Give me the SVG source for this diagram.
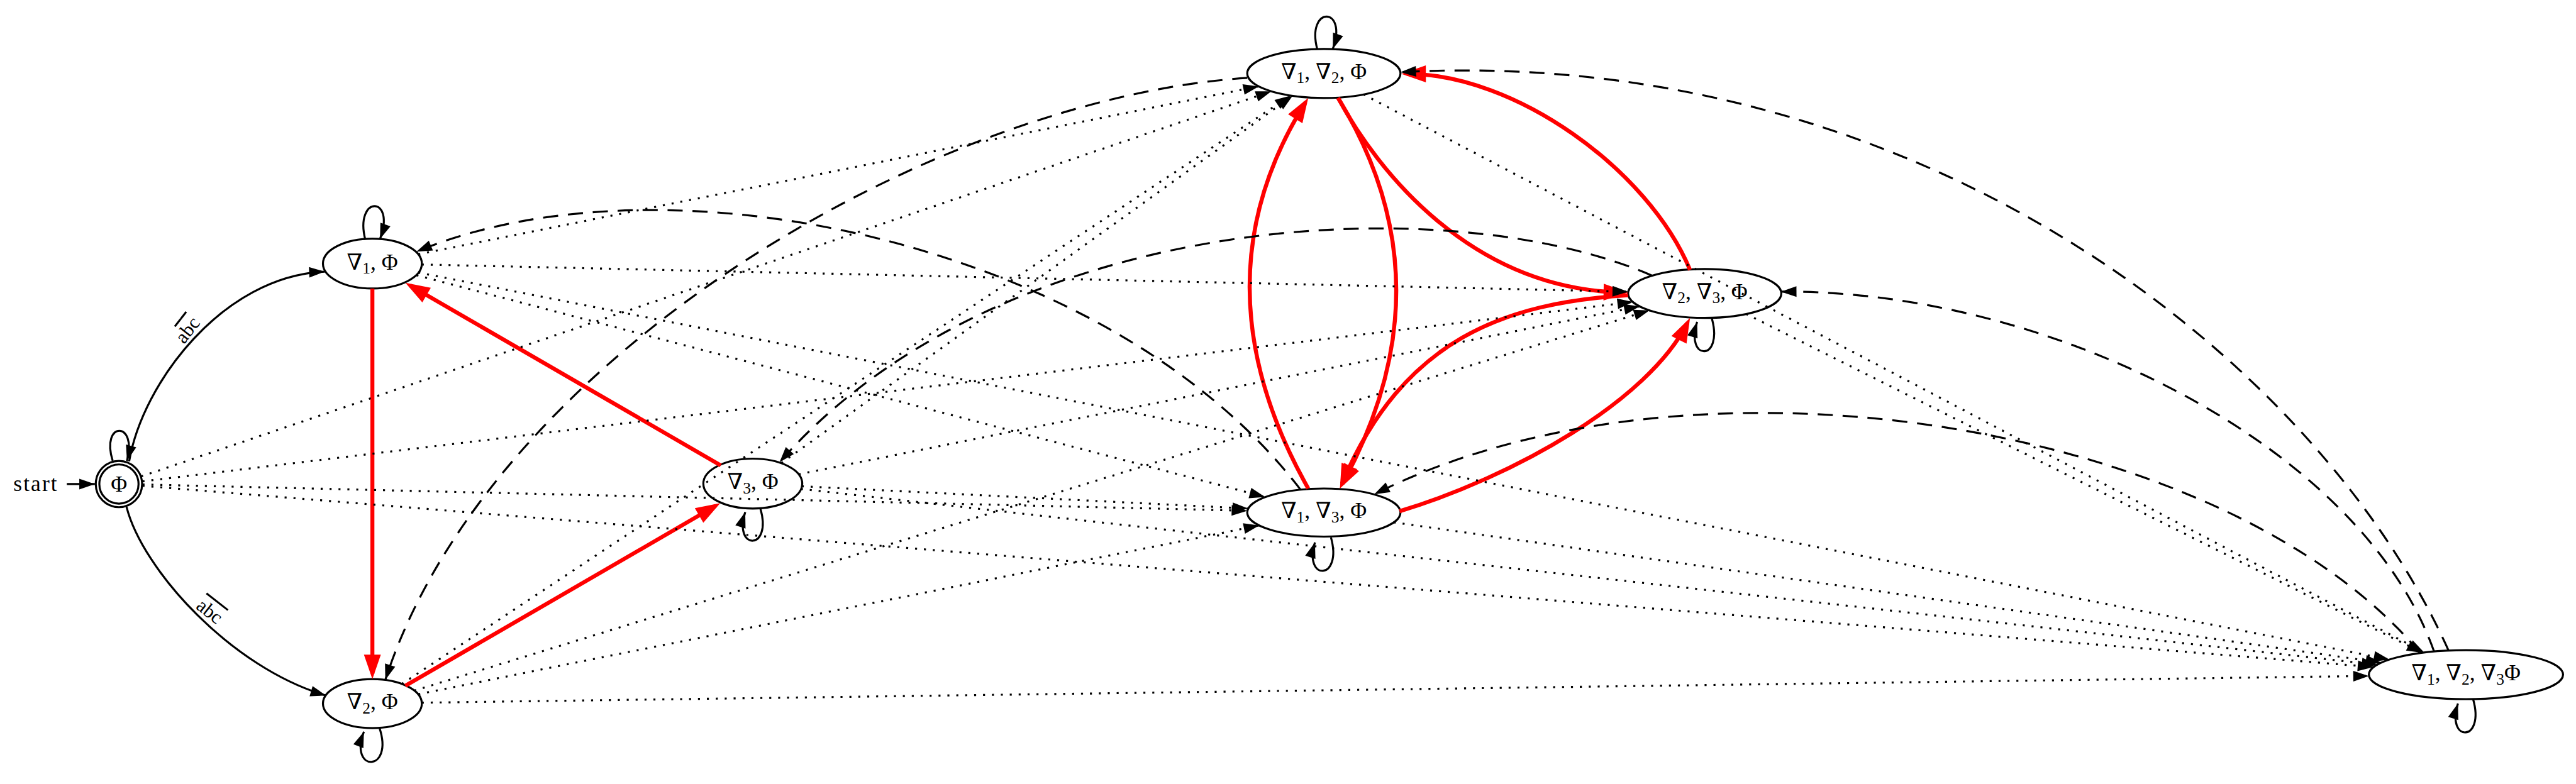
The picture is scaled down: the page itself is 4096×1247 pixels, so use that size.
<svg xmlns="http://www.w3.org/2000/svg" width="4096" height="1247" viewBox="0 0 4096 1247">
<style>
.node{fill:#fff;stroke:#000;stroke-width:4.5}
.lbl{font-family:"Liberation Serif","DejaVu Serif",serif;font-size:50px;fill:#000}
.sub{font-size:36px}
.elbl{font-family:"Liberation Serif","DejaVu Serif",serif;font-size:44px;fill:#000}
.e{fill:none;stroke:#000;stroke-width:4.5;marker-end:url(#ab)}
.dot{stroke-dasharray:4.5 15.5}
.dash{stroke-dasharray:34 22}
.red{fill:none;stroke:#f00;stroke-width:9;marker-end:url(#ar)}
</style>
<defs>
<marker id="ab" markerUnits="userSpaceOnUse" orient="auto" overflow="visible" markerWidth="1" markerHeight="1" refX="0" refY="0"><path d="M0,0 L-35,-12 L-35,12 Z" fill="#000"/></marker>
<marker id="ar" markerUnits="userSpaceOnUse" orient="auto" overflow="visible" markerWidth="1" markerHeight="1" refX="0" refY="0"><path d="M12,0 L-43,-19 L-43,19 Z" fill="#f00"/></marker>
</defs>
<rect width="4096" height="1247" fill="#fff"/>
<g transform="scale(0.70828)">
<g id="node-phi"><circle class="node" cx="267" cy="1087" r="52"/><circle class="node" cx="267" cy="1087" r="44"/><text class="lbl" x="267" y="1104" text-anchor="middle">Φ</text></g>
<g id="node-n1"><ellipse class="node" cx="836" cy="592" rx="111" ry="56"/><text class="lbl" x="836" y="605" text-anchor="middle">∇<tspan class="sub" dy="9">1</tspan><tspan dy="-9">, Φ</tspan></text></g>
<g id="node-n2"><ellipse class="node" cx="836" cy="1580" rx="111" ry="55"/><text class="lbl" x="836" y="1593" text-anchor="middle">∇<tspan class="sub" dy="9">2</tspan><tspan dy="-9">, Φ</tspan></text></g>
<g id="node-n3"><ellipse class="node" cx="1690" cy="1086" rx="111" ry="56"/><text class="lbl" x="1690" y="1099" text-anchor="middle">∇<tspan class="sub" dy="9">3</tspan><tspan dy="-9">, Φ</tspan></text></g>
<g id="node-n12"><ellipse class="node" cx="2972" cy="165" rx="172" ry="55"/><text class="lbl" x="2972" y="178" text-anchor="middle">∇<tspan class="sub" dy="9">1</tspan><tspan dy="-9">, ∇</tspan><tspan class="sub" dy="9">2</tspan><tspan dy="-9">, Φ</tspan></text></g>
<g id="node-n23"><ellipse class="node" cx="3827" cy="659" rx="172" ry="55"/><text class="lbl" x="3827" y="672" text-anchor="middle">∇<tspan class="sub" dy="9">2</tspan><tspan dy="-9">, ∇</tspan><tspan class="sub" dy="9">3</tspan><tspan dy="-9">, Φ</tspan></text></g>
<g id="node-n13"><ellipse class="node" cx="2972" cy="1151" rx="172" ry="54"/><text class="lbl" x="2972" y="1164" text-anchor="middle">∇<tspan class="sub" dy="9">1</tspan><tspan dy="-9">, ∇</tspan><tspan class="sub" dy="9">3</tspan><tspan dy="-9">, Φ</tspan></text></g>
<g id="node-n123"><ellipse class="node" cx="5536" cy="1515" rx="218" ry="55"/><text class="lbl" x="5536" y="1528" text-anchor="middle">∇<tspan class="sub" dy="9">1</tspan><tspan dy="-9">, ∇</tspan><tspan class="sub" dy="9">2</tspan><tspan dy="-9">, ∇</tspan><tspan class="sub" dy="9">3</tspan><tspan dy="-9">Φ</tspan></text></g>
<text class="lbl" x="30" y="1103" font-size="46" textLength="98">start</text>
<g id="edges">
<path class="e" d="M150,1087 L213,1087"/>
<path class="e" d="M290,1036 C320,860 500,620 729,610"/>
<path class="e" d="M284,1138 C320,1280 520,1500 732,1562"/>
<path class="e" d="M253,1035 C225,945 310,945 285,1035"/>
<path class="e" d="M820,538 C795,438 890,438 853,537"/>
<path class="e" d="M2957,110 C2932,13 3027,13 2992,110"/>
<path class="e" d="M852,1635 C885,1735 782,1735 817,1643"/>
<path class="e" d="M1707,1142 C1735,1237 1645,1237 1673,1150"/>
<path class="e" d="M3843,715 C3870,812 3782,812 3810,723"/>
<path class="e" d="M2988,1207 C3015,1305 2925,1305 2952,1218"/>
<path class="e" d="M5552,1570 C5580,1668 5490,1668 5518,1580"/>
<path class="red" d="M836,648 L836,1513"/>
<path class="red" d="M910,1540 L1606.6,1136"/>
<path class="red" d="M1618,1045 L920.4,641"/>
<path class="red" d="M3004,220 Q3260,635.5 3013.7,1086.5"/>
<path class="red" d="M2937,1097 Q2677,635.5 2930.6,230.2"/>
<path class="red" d="M3004,220 C3090,380 3300,650 3643,656.8"/>
<path class="red" d="M3794,606 C3700,380 3400,165 3158,166"/>
<path class="red" d="M3655,663 C3380,680 3150,760 3012.7,1086"/>
<path class="red" d="M3142,1148 C3400,1070 3700,900 3788.6,724.7"/>
<path class="e dash" d="M3709,619 C3250,420 2250,470 1750,1038"/>
<path class="e dash" d="M2920,1100 C2500,550 1500,330 935,565"/>
<path class="e dash" d="M2800,175 C2100,220 1100,800 865,1527"/>
<path class="e dash" d="M5497,1461 C5200,800 4300,100 3144,162"/>
<path class="e dash" d="M5464,1462 C5300,1000 4600,650 3998,655"/>
<path class="e dash" d="M5432,1465 C5000,950 3800,750 3085,1110"/>
<path class="e dot" d="M317,1070 L2854,205"/>
<path class="e dot" d="M320,1081 L3666,678"/>
<path class="e dot" d="M320,1088 L2800,1147"/>
<path class="e dot" d="M320,1091 L5328,1498"/>
<path class="e dot" d="M939,571 L2826,194"/>
<path class="e dot" d="M947,594 L3655,655"/>
<path class="e dot" d="M935,618 L2840,1116"/>
<path class="e dot" d="M939,612 L5364,1481"/>
<path class="e dot" d="M902,1536 L2897,215"/>
<path class="e dot" d="M930,1551 L3703,697"/>
<path class="e dot" d="M939,1559 L2827,1180"/>
<path class="e dot" d="M947,1578 L5318,1518"/>
<path class="e dot" d="M1754,1040 L2902,215"/>
<path class="e dot" d="M1793,1065 L3681,688"/>
<path class="e dot" d="M1800,1092 L2802,1142"/>
<path class="e dot" d="M1798,1098 L5337,1493"/>
<path class="e dot" d="M3061,212 L5442,1465"/>
<path class="e dot" d="M3920,705 L5438,1466"/>
<path class="e dot" d="M3129,1173 L5346,1488"/>
<text class="elbl" transform="translate(432,750) rotate(-52)" text-anchor="middle">a<tspan text-decoration="overline">b</tspan><tspan text-decoration="overline">c</tspan></text>
<text class="elbl" transform="translate(462,1384) rotate(38)" text-anchor="middle"><tspan text-decoration="overline">abc</tspan></text>
</g>
</g>
</svg>
